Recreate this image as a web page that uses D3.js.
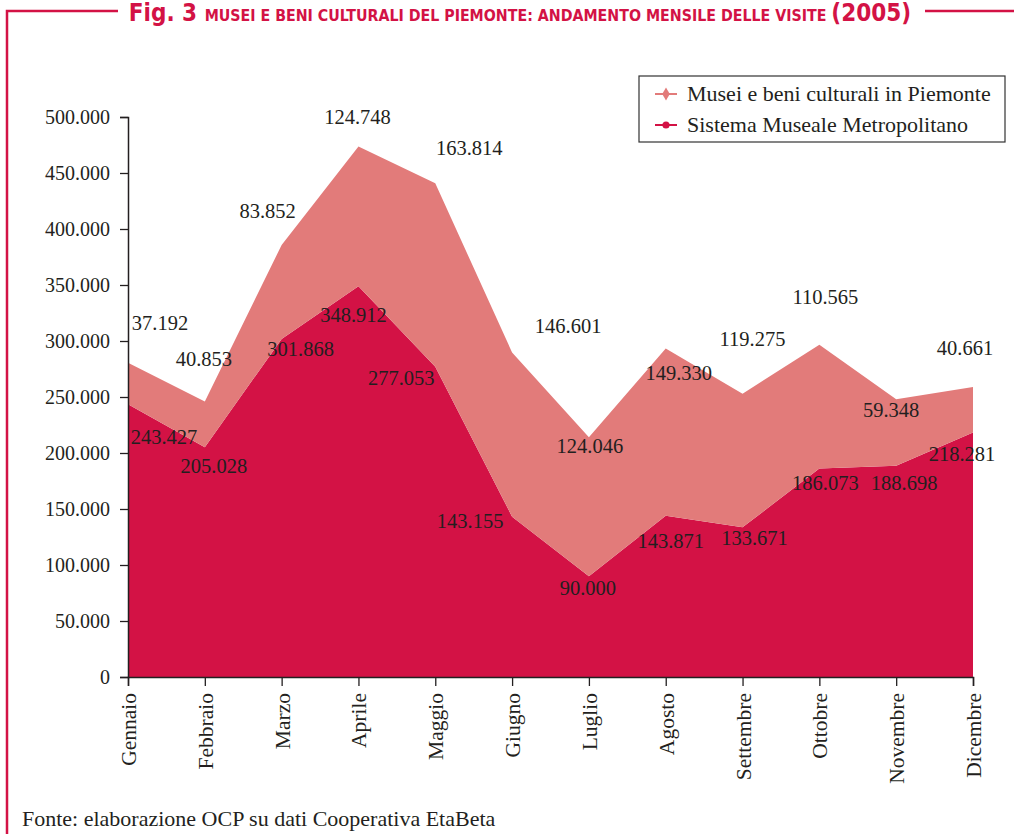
<!DOCTYPE html>
<html>
<head>
<meta charset="utf-8">
<script src="https://cdn.jsdelivr.net/npm/d3@7"></script>
<style>
  body { margin: 0; background: #fff; }
  svg { display: block; }
</style>
</head>
<body>
<script>
// chart data
var months = ["Gennaio", "Febbraio", "Marzo", "Aprile", "Maggio", "Giugno",
              "Luglio", "Agosto", "Settembre", "Ottobre", "Novembre", "Dicembre"];
var sistema = [243427, 205028, 301868, 348912, 277053, 143155,
               90000, 143871, 133671, 186073, 188698, 218281];
var piemonte = [37192, 40853, 83852, 124748, 163814, 146601,
                124046, 149330, 119275, 110565, 59348, 40661];
var seriesNames = ["Sistema Museale Metropolitano", "Musei e beni culturali in Piemonte"];
var yTicks = [0, 50000, 100000, 150000, 200000, 250000, 300000, 350000, 400000, 450000, 500000];

// label nudges (pixels) from each point
var nudgeTop = [[32,-33],[-1,-36],[-14,-27],[-1,-23],[34,-28],[56,-19],
                [1,16],[13,31],[10,-48],[6,-41],[-5,18],[-8,-32]];
var nudgeBottom = [[36,40],[9,26],[19,17],[-5,36],[-34,18],[-42,11],
                   [-1,19],[5,32],[12,18],[6,21],[8,24],[-11,28]];

// global properties
var p = {
    width: 1014,
    height: 834,
    left: 128,
    right: 973,
    top: 117,
    bottom: 677,
    red: "#d31245",
    pink: "#e27b7a",
    ink: "#231f20",
    serif: "'Liberation Serif', 'DejaVu Serif', serif",
    sans: "'DejaVu Sans Condensed', 'DejaVu Sans', sans-serif"
};

var fmt = function(v) { return d3.format(",")(v).replace(/,/g, "."); };

var svg = d3.select("body").append("svg")
    .attr("width", p.width).attr("height", p.height);

// frame
svg.append("path")
    .attr("d", "M7,834 V11 H118 M925,11 H1014")
    .attr("fill", "none").attr("stroke", p.red).attr("stroke-width", 2.5);

// title
var title = svg.append("text")
    .attr("x", 520).attr("y", 21)
    .attr("text-anchor", "middle")
    .attr("font-family", p.sans).attr("font-weight", "bold")
    .attr("fill", p.red);
title.append("tspan").attr("font-size", 24).text("Fig. 3 ");
title.append("tspan").attr("font-size", 15.8).text("MUSEI E BENI CULTURALI DEL PIEMONTE: ANDAMENTO MENSILE DELLE VISITE ");
title.append("tspan").attr("font-size", 24).text("(2005)");

// scales
var x = d3.scalePoint().domain(months).range([p.left, p.right]);
var y = d3.scaleLinear().domain([0, 500000]).range([p.bottom, p.top]);

// stacked data
var rows = months.map(function(m, i) {
    return { month: m, s: sistema[i], p: piemonte[i] };
});
var stacked = d3.stack().keys(["s", "p"])(rows);

var area = d3.area()
    .x(function(d) { return x(d.data.month); })
    .y0(function(d) { return y(d[0]); })
    .y1(function(d) { return y(d[1]); });

svg.append("g").selectAll("path")
    .data(stacked)
    .join("path")
    .attr("d", area)
    .attr("fill", function(d, i) { return i === 0 ? p.red : p.pink; });

// axes
var yAxis = svg.append("g")
    .attr("transform", "translate(" + p.left + ",0)")
    .call(d3.axisLeft(y).tickValues(yTicks).tickFormat(fmt).tickSize(8).tickPadding(10));
var xAxis = svg.append("g")
    .attr("transform", "translate(0," + p.bottom + ")")
    .call(d3.axisBottom(x).tickSize(9).tickPadding(8));

[yAxis, xAxis].forEach(function(a) {
    a.select(".domain").attr("stroke", p.ink).attr("stroke-width", 1.5);
    a.selectAll(".tick line").attr("stroke", p.ink).attr("stroke-width", 1.3);
    a.selectAll("text").attr("font-family", p.serif).attr("fill", p.ink);
});
yAxis.selectAll("text").attr("font-size", 20);
xAxis.selectAll("text")
    .attr("font-size", 21.5)
    .attr("text-anchor", "end")
    .attr("transform", "rotate(-90)")
    .attr("x", -16).attr("y", 0).attr("dy", "0.35em");

// value labels
var labels = svg.append("g")
    .attr("font-family", p.serif).attr("font-size", 20.5)
    .attr("fill", p.ink).attr("text-anchor", "middle");

labels.selectAll(".lb")
    .data(stacked[0])
    .join("text")
    .attr("class", "lb")
    .attr("x", function(d, i) { return x(d.data.month) + nudgeBottom[i][0]; })
    .attr("y", function(d, i) { return y(d[1]) + nudgeBottom[i][1]; })
    .text(function(d) { return fmt(d.data.s); });

labels.selectAll(".lt")
    .data(stacked[1])
    .join("text")
    .attr("class", "lt")
    .attr("x", function(d, i) { return x(d.data.month) + nudgeTop[i][0]; })
    .attr("y", function(d, i) { return y(d[1]) + nudgeTop[i][1]; })
    .text(function(d) { return fmt(d.data.p); });

// legend
var legend = svg.append("g").attr("transform", "translate(639,76)");
legend.append("rect")
    .attr("width", 366).attr("height", 66)
    .attr("fill", "#fff").attr("stroke", "#333").attr("stroke-width", 1.2);

var entries = [
    { name: seriesNames[1], color: p.pink, shape: "diamond" },
    { name: seriesNames[0], color: p.red, shape: "circle" }
];
var item = legend.selectAll(".item")
    .data(entries)
    .join("g")
    .attr("class", "item")
    .attr("transform", function(d, i) { return "translate(0," + (18 + i * 31) + ")"; });
item.append("line")
    .attr("x1", 16).attr("x2", 38)
    .attr("stroke", function(d) { return d.color; }).attr("stroke-width", 2);
item.append("path")
    .attr("transform", "translate(27,0)")
    .attr("d", function(d) {
        var sym = d.shape === "diamond" ? d3.symbolDiamond : d3.symbolCircle;
        return d3.symbol().type(sym).size(d.shape === "diamond" ? 50 : 40)();
    })
    .attr("fill", function(d) { return d.color; });
item.append("text")
    .attr("x", 48).attr("y", 7)
    .attr("font-family", p.serif).attr("font-size", 22)
    .attr("fill", p.ink)
    .text(function(d) { return d.name; });

// source
svg.append("text")
    .attr("x", 22).attr("y", 826)
    .attr("font-family", p.serif).attr("font-size", 22)
    .attr("fill", p.ink)
    .text("Fonte: elaborazione OCP su dati Cooperativa EtaBeta");
</script>
</body>
</html>
